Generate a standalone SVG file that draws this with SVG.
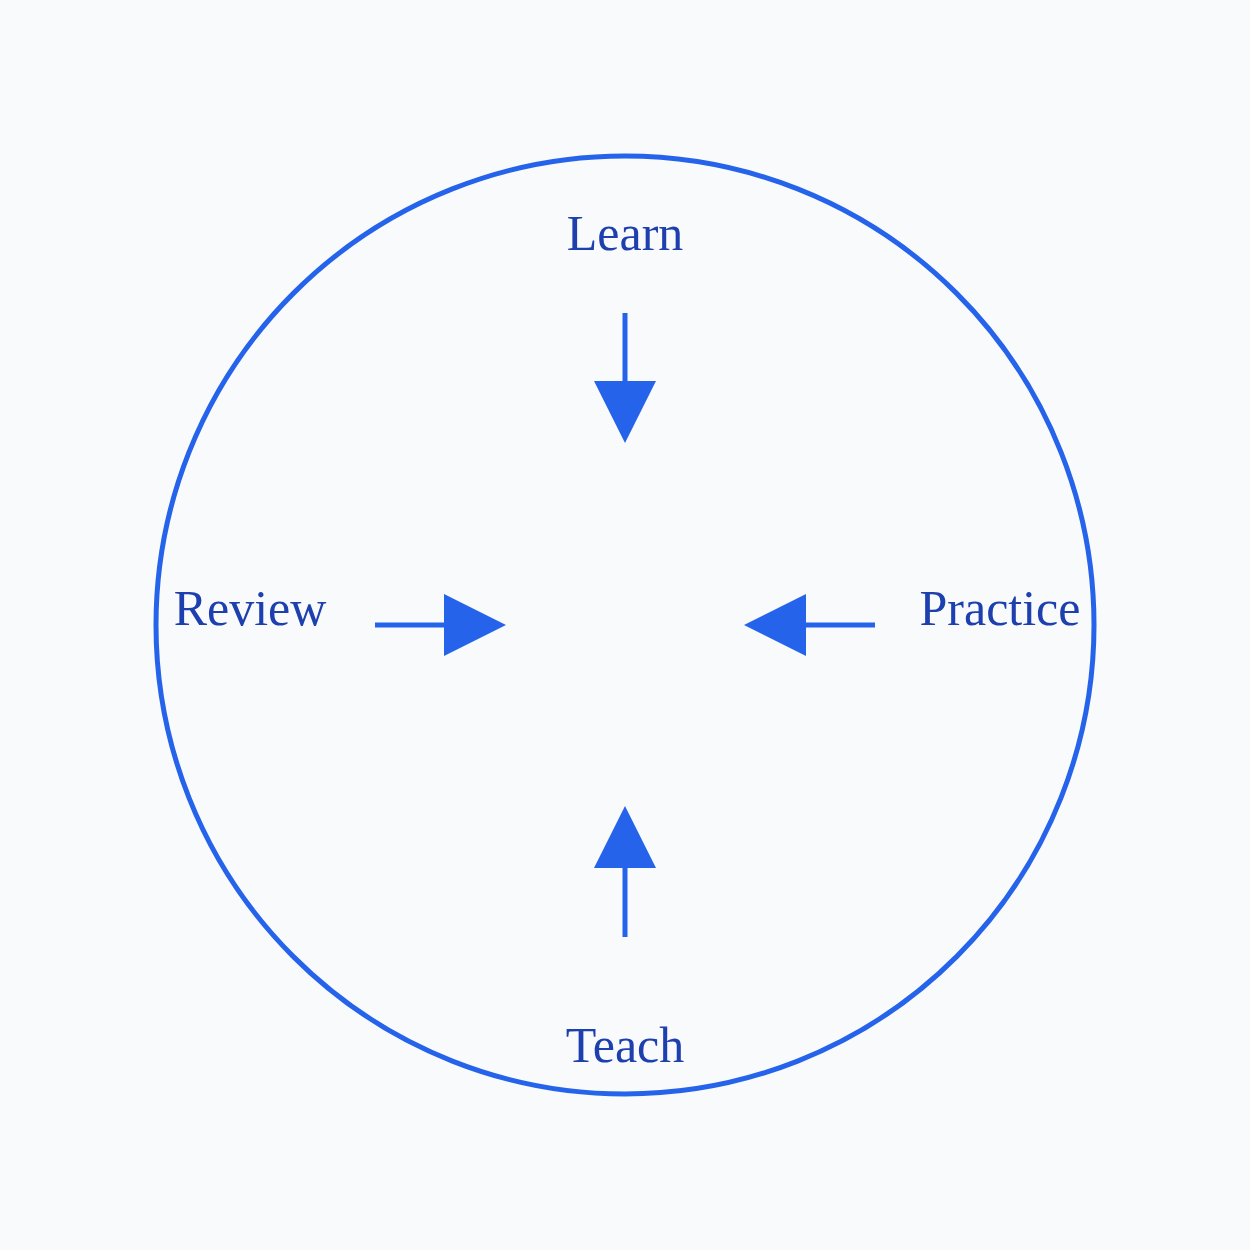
<svg xmlns="http://www.w3.org/2000/svg" width="1250" height="1250" viewBox="0 0 1250 1250">
<style>
.lbl{font-family:"Liberation Serif","Times New Roman",serif;font-size:50px;fill:#1e40af;text-anchor:middle}
.edge{stroke:#2563eb;stroke-width:5;fill:none;marker-end:url(#ah)}
</style>
<defs>
<marker id="ah" markerUnits="userSpaceOnUse" markerWidth="62" markerHeight="62" refX="0" refY="31" orient="auto">
<path d="M0,0 L62,31 L0,62 z" fill="#2563eb"/>
</marker>
</defs>
<rect width="1250" height="1250" fill="#f8fafc"/>
<g id="ring"><circle cx="625" cy="625" r="469" fill="none" stroke="#2563eb" stroke-width="5"/></g>
<g id="learn"><text class="lbl" x="625" y="250">Learn</text></g>
<g id="review"><text class="lbl" x="250" y="625">Review</text></g>
<g id="practice"><text class="lbl" x="1000" y="625">Practice</text></g>
<g id="teach"><text class="lbl" x="625" y="1062">Teach</text></g>
<g id="connectors">
<line class="edge" x1="625" y1="313" x2="625" y2="381"/>
<line class="edge" x1="375" y1="625" x2="444" y2="625"/>
<line class="edge" x1="875" y1="625" x2="806" y2="625"/>
<line class="edge" x1="625" y1="937" x2="625" y2="868"/>
</g>
</svg>
